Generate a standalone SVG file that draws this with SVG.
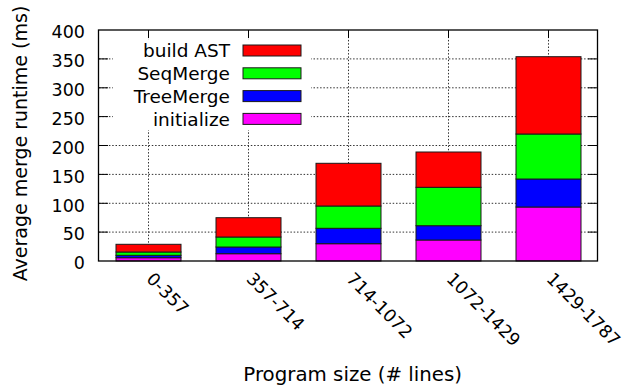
<svg xmlns="http://www.w3.org/2000/svg" width="625" height="385" viewBox="0 0 625 385">
  <style>
    text { font-family: "DejaVu Sans", Verdana, sans-serif; fill: #000; }
    .tick { font-size: 17.5px; }
    .key { font-size: 18.5px; text-anchor: end; }
    .axis { font-size: 19.5px; text-anchor: middle; }
    .grid { stroke: #333; stroke-width: 1; stroke-dasharray: 1.5 1.8; fill: none; }
    .tk { stroke: #000; stroke-width: 1; fill: none; }
    .seg { stroke: #1a1a1a; stroke-width: 1; }
    .ast { fill: #ff0000; }
    .seq { fill: #00ff00; }
    .tree { fill: #0000ff; }
    .init { fill: #ff00ff; }
  </style>

  <rect x="0" y="0" width="625" height="385" fill="#fff"/>

  <!-- dotted grid -->
  <g id="grid">
    <path class="grid" d="M99 58.9H597 M99 87.8H597 M99 116.6H597 M99 145.5H597 M99 174.4H597 M99 203.3H597 M99 232.1H597"/>
    <path class="grid" d="M148.5 30V261 M248.5 30V261 M348.5 30V261 M448.5 30V261 M548.5 30V261"/>
  </g>

  <!-- key -->
  <g id="legend">
    <rect x="113" y="40" width="198" height="90" fill="#fff"/>
    <g id="key-ast">
      <text class="key" x="230" y="57">build AST</text>
      <rect class="seg ast" x="243" y="45" width="58" height="11"/>
    </g>
    <g id="key-seq">
      <text class="key" x="230" y="80">SeqMerge</text>
      <rect class="seg seq" x="243" y="67.8" width="58" height="11"/>
    </g>
    <g id="key-tree">
      <text class="key" x="230" y="102.8">TreeMerge</text>
      <rect class="seg tree" x="243" y="90.6" width="58" height="11"/>
    </g>
    <g id="key-init">
      <text class="key" x="230" y="125.6">initialize</text>
      <rect class="seg init" x="243" y="113.4" width="58" height="11"/>
    </g>
  </g>

  <!-- stacked bars -->
  <g id="bar-0-357">
    <rect class="seg init" x="116" y="257.7" width="65" height="3.3"/>
    <rect class="seg tree" x="116" y="255.3" width="65" height="2.4"/>
    <rect class="seg seq" x="116" y="252" width="65" height="3.3"/>
    <rect class="seg ast" x="116" y="244.3" width="65" height="7.7"/>
  </g>
  <g id="bar-357-714">
    <rect class="seg init" x="216" y="253.7" width="65" height="7.3"/>
    <rect class="seg tree" x="216" y="247" width="65" height="6.7"/>
    <rect class="seg seq" x="216" y="237" width="65" height="10"/>
    <rect class="seg ast" x="216" y="217.7" width="65" height="19.3"/>
  </g>
  <g id="bar-714-1072">
    <rect class="seg init" x="316" y="243.7" width="65" height="17.3"/>
    <rect class="seg tree" x="316" y="228.3" width="65" height="15.4"/>
    <rect class="seg seq" x="316" y="206" width="65" height="22.3"/>
    <rect class="seg ast" x="316" y="163.3" width="65" height="42.7"/>
  </g>
  <g id="bar-1072-1429">
    <rect class="seg init" x="416" y="240" width="65" height="21"/>
    <rect class="seg tree" x="416" y="225.7" width="65" height="14.3"/>
    <rect class="seg seq" x="416" y="187.3" width="65" height="38.4"/>
    <rect class="seg ast" x="416" y="152" width="65" height="35.3"/>
  </g>
  <g id="bar-1429-1787">
    <rect class="seg init" x="516" y="207" width="65" height="54"/>
    <rect class="seg tree" x="516" y="179" width="65" height="28"/>
    <rect class="seg seq" x="516" y="134" width="65" height="45"/>
    <rect class="seg ast" x="516" y="56.7" width="65" height="77.3"/>
  </g>

  <!-- frame and tick marks -->
  <g id="axes">
    <rect x="98.5" y="30" width="499" height="231" fill="none" stroke="#000" stroke-width="1.3"/>
    <path class="tk" d="M99 58.9h9 M99 87.8h9 M99 116.6h9 M99 145.5h9 M99 174.4h9 M99 203.3h9 M99 232.1h9"/>
    <path class="tk" d="M597 58.9h-9 M597 87.8h-9 M597 116.6h-9 M597 145.5h-9 M597 174.4h-9 M597 203.3h-9 M597 232.1h-9"/>
    <path class="tk" d="M148.5 30v8 M248.5 30v8 M348.5 30v8 M448.5 30v8 M548.5 30v8"/>
  </g>

  <!-- y tick labels -->
  <g id="y-ticks" class="tick" text-anchor="end">
    <text x="85" y="38.3">400</text>
    <text x="85" y="67.2">350</text>
    <text x="85" y="96">300</text>
    <text x="85" y="124.9">250</text>
    <text x="85" y="153.8">200</text>
    <text x="85" y="182.7">150</text>
    <text x="85" y="211.5">100</text>
    <text x="85" y="240.4">50</text>
    <text x="85" y="269.3">0</text>
  </g>

  <!-- x tick labels -->
  <g id="x-ticks" class="tick">
    <text transform="translate(145.5 280) rotate(45)">0-357</text>
    <text transform="translate(245.5 280) rotate(45)">357-714</text>
    <text transform="translate(345.5 280) rotate(45)">714-1072</text>
    <text transform="translate(445.5 280) rotate(45)">1072-1429</text>
    <text transform="translate(545.5 280) rotate(45)">1429-1787</text>
  </g>

  <!-- axis titles -->
  <text class="axis" style="font-size:19px" transform="translate(26.5 143.5) rotate(-90)">Average merge runtime (ms)</text>
  <text class="axis" style="font-size:19.8px" x="352.7" y="380.5">Program size (# lines)</text>
</svg>
